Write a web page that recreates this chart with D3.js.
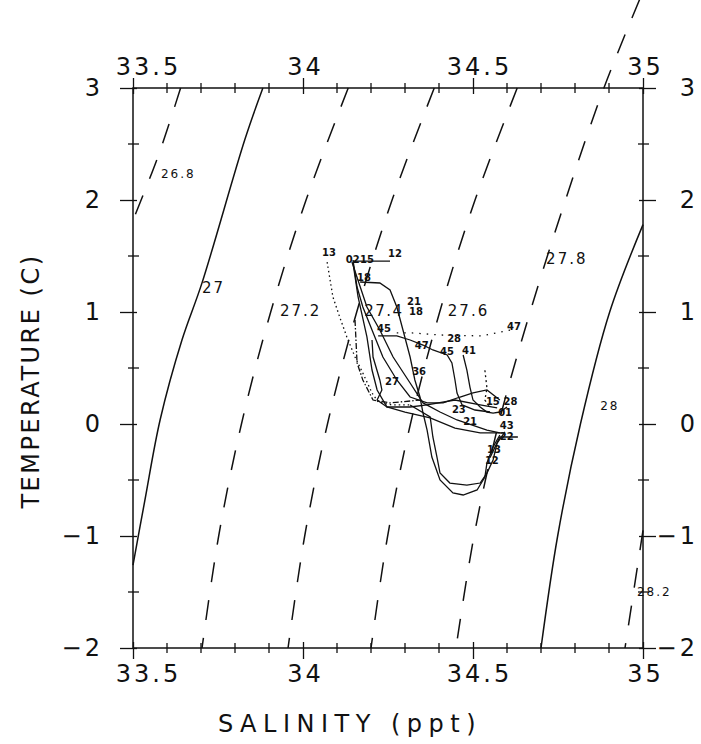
<!DOCTYPE html>
<html>
<head>
<meta charset="utf-8">
<script src="https://cdn.jsdelivr.net/npm/d3@7"></script>
<style>
	body { margin: 0; background: #fff; }
	svg text { font-family: "DejaVu Sans", sans-serif; fill: #111; }
</style>
</head>
<body>
<div id="chart"></div>
<script>
// AXIS TICKS
var salinityTicks = [33.5, 34, 34.5, 35];
var tempTicks = [3, 2, 1, 0, -1, -2];

// ISOPYCNALS (sigma-theta), points as [salinity, temperature]
var iso268 = [[33.64, 3], [33.575, 2.4], [33.5, 1.82]];
var iso270 = [[33.882, 3], [33.829, 2.54], [33.703, 1.26], [33.644, 0.75], [33.58, 0.04], [33.535, -0.68], [33.5, -1.26]];
var iso272 = [[34.133, 3], [34.009, 2], [33.905, 1], [33.819, 0], [33.752, -1], [33.703, -2]];
var iso274 = [[34.386, 3], [34.262, 2], [34.158, 1], [34.072, 0], [34.005, -1], [33.956, -2]];
var iso276 = [[34.63, 3], [34.506, 2], [34.402, 1], [34.316, 0], [34.249, -1], [34.2, -2]];
var iso278 = [[34.99, 3.79], [34.885, 3], [34.772, 2], [34.668, 1], [34.575, 0], [34.503, -1], [34.45, -2]];
var iso280 = [[35.0, 1.78], [34.902, 1], [34.816, 0], [34.749, -1], [34.7, -2]];
var iso282 = [[35.0, -0.95], [34.947, -2]];

// isopycnal labels: [value text, salinity, temperature]
var isoLabels = [
	["26.8", 33.582, 2.2],
	["27", 33.703, 1.17],
	["27.2", 33.932, 0.96],
	["27.4", 34.18, 0.96],
	["27.6", 34.426, 0.96],
	["27.8", 34.715, 1.43],
	["28", 34.874, 0.125],
	["28.2", 34.982, -1.54],
];

// STATION PROFILES [salinity, temperature]
var st13 = [[34.071, 1.446], [34.088, 1.134], [34.109, 0.946], [34.129, 0.777], [34.153, 0.598], [34.176, 0.455], [34.203, 0.277], [34.221, 0.196], [34.262, 0.17], [34.315, 0.17]];
var st02 = [[34.144, 1.446], [34.188, 1.045], [34.226, 0.839], [34.265, 0.598], [34.315, 0.366], [34.353, 0.188], [34.403, 0.107], [34.453, 0.036], [34.541, -0.054], [34.579, -0.08]];
var st15 = [[34.147, 1.438], [34.162, 1.134], [34.188, 0.777], [34.203, 0.482], [34.218, 0.304], [34.247, 0.152], [34.315, 0.152], [34.365, 0.17], [34.447, 0.214], [34.521, 0.17], [34.571, 0.143]];
var st18 = [[34.168, 1.268], [34.226, 1.259], [34.256, 1.196], [34.276, 1.045], [34.294, 0.839], [34.315, 0.598], [34.329, 0.393], [34.344, 0.241], [34.353, 0.098], [34.365, -0.054], [34.379, -0.295], [34.403, -0.5], [34.441, -0.616], [34.471, -0.634], [34.512, -0.589], [34.535, -0.473], [34.541, -0.348], [34.559, -0.205], [34.579, -0.098]];
var st23 = [[34.315, 0.17], [34.374, 0.063], [34.382, -0.116], [34.394, -0.295], [34.403, -0.438], [34.432, -0.527], [34.482, -0.545], [34.521, -0.527], [34.541, -0.438], [34.559, -0.321], [34.571, -0.17], [34.594, -0.071]];
var st41 = [[34.471, 0.616], [34.482, 0.482], [34.491, 0.33], [34.5, 0.214], [34.521, 0.152], [34.541, 0.107], [34.559, 0.098], [34.579, 0.107], [34.6, 0.152]];
var st45 = [[34.221, 0.786], [34.276, 0.786], [34.315, 0.75], [34.353, 0.705], [34.382, 0.661], [34.424, 0.616], [34.438, 0.545], [34.447, 0.393], [34.453, 0.277], [34.468, 0.17], [34.506, 0.125], [34.55, 0.107]];
var st27 = [[34.203, 0.75], [34.206, 0.598], [34.226, 0.393], [34.232, 0.304], [34.218, 0.214], [34.247, 0.152], [34.3, 0.107], [34.374, 0.054], [34.447, -0.036], [34.521, -0.08], [34.588, -0.08]];
var st21 = [[34.147, 1.464], [34.159, 1.223], [34.176, 1.045], [34.203, 0.839], [34.235, 0.598], [34.276, 0.393], [34.315, 0.241], [34.365, 0.188], [34.412, 0.188], [34.462, 0.241], [34.5, 0.277], [34.541, 0.304], [34.579, 0.214]];
var st47 = [[34.609, 0.839], [34.526, 0.786], [34.403, 0.795], [34.321, 0.813], [34.271, 0.813]];
var st28 = [[34.535, 0.48], [34.541, 0.321], [34.535, 0.214], [34.55, 0.15]];
var st36 = [[34.153, 0.929], [34.159, 0.545], [34.176, 0.393], [34.206, 0.214], [34.256, 0.188], [34.344, 0.214]];
var st12 = [[34.147, 1.455], [34.256, 1.455]];
var st22 = [[34.55, -0.3], [34.579, -0.116], [34.632, -0.116]];

// station number labels: [text, salinity, temperature]
var stationLabels = [
	["13", 34.056, 1.5], ["02", 34.126, 1.438], ["15", 34.168, 1.438], ["12", 34.25, 1.491],
	["18", 34.159, 1.277], ["21", 34.306, 1.06], ["18", 34.312, 0.97], ["45", 34.218, 0.821],
	["47", 34.329, 0.67], ["28", 34.424, 0.732], ["45", 34.403, 0.616], ["41", 34.468, 0.625],
	["47", 34.6, 0.839], ["36", 34.321, 0.438], ["27", 34.241, 0.348], ["15", 34.538, 0.17],
	["28", 34.59, 0.17], ["01", 34.574, 0.07], ["23", 34.438, 0.098], ["21", 34.471, -0.009],
	["43", 34.579, -0.045], ["22", 34.579, -0.14], ["13", 34.541, -0.259], ["12", 34.535, -0.355],
];

// SET DIMENSIONS
var width = 701, height = 744;
var margin = { top: 88, right: 58, bottom: 96, left: 133 };

var svg = d3
	.select("#chart")
	.append("svg")
	.attr("width", width)
	.attr("height", height);

var x = d3.scaleLinear().domain([33.5, 35]).range([margin.left, width - margin.right]);
var y = d3.scaleLinear().domain([-2, 3]).range([height - margin.bottom, margin.top]);

var fmt = function (d) {
	return d3.format("")(d);
};

// FRAME
svg
	.append("rect")
	.attr("x", x(33.5))
	.attr("y", y(3))
	.attr("width", x(35) - x(33.5))
	.attr("height", y(-2) - y(3))
	.attr("fill", "none")
	.attr("stroke", "#111")
	.attr("stroke-width", 1.5);

// MINOR TICKS (crossing the frame)
var minorX = x.ticks(15).filter(function (d) { return salinityTicks.indexOf(+d.toFixed(1)) < 0; });
var minorY = y.ticks(10).filter(function (d) { return tempTicks.indexOf(d) < 0; });
var ticks = svg.append("g").attr("stroke", "#111").attr("stroke-width", 1.3);
[y(-2), y(3)].forEach(function (yy) {
	ticks.selectAll(null).data(minorX).join("line")
		.attr("x1", function (d) { return x(d); }).attr("x2", function (d) { return x(d); })
		.attr("y1", yy - 5).attr("y2", yy + 5);
});
[x(33.5), x(35)].forEach(function (xx) {
	ticks.selectAll(null).data(minorY).join("line")
		.attr("y1", function (d) { return y(d); }).attr("y2", function (d) { return y(d); })
		.attr("x1", xx - 5).attr("x2", xx + 6);
});

// MAJOR AXES
function styleAxis(g) {
	g.select(".domain").remove();
	g.selectAll(".tick line").attr("stroke", "#111").attr("stroke-width", 1.3);
	g.selectAll(".tick text")
		.attr("fill", "#111")
		.style("font-size", "24px")
		.style("letter-spacing", "3px");
}

var bottomAxis = svg.append("g")
	.attr("transform", "translate(0," + y(-2) + ")")
	.call(d3.axisBottom(x).tickValues(salinityTicks).tickSize(11).tickPadding(6).tickFormat(fmt));
styleAxis(bottomAxis);
bottomAxis.selectAll(".tick line").attr("y1", -6);

var topAxis = svg.append("g")
	.attr("transform", "translate(0," + y(3) + ")")
	.call(d3.axisTop(x).tickValues(salinityTicks).tickSize(10).tickPadding(3).tickFormat(fmt));
styleAxis(topAxis);
topAxis.selectAll(".tick line").attr("y1", 6);

[bottomAxis, topAxis].forEach(function (g) {
	g.selectAll(".tick text").attr("dx", function (d) {
		return d === 33.5 ? 15 : d % 1 ? 6 : 2;
	});
});

var leftAxis = svg.append("g")
	.attr("transform", "translate(" + x(33.5) + ",0)")
	.call(d3.axisLeft(y).tickValues(tempTicks).tickSize(13).tickPadding(17).tickFormat(fmt));
styleAxis(leftAxis);
leftAxis.selectAll(".tick line").attr("x1", 4);

var rightAxis = svg.append("g")
	.attr("transform", "translate(" + x(35) + ",0)")
	.call(d3.axisRight(y).tickValues(tempTicks).tickSize(13).tickPadding(18).tickFormat(fmt));
styleAxis(rightAxis);
rightAxis.selectAll(".tick line").attr("x1", -4);
rightAxis.selectAll(".tick text").attr("text-anchor", "end").attr("x", 55);

// AXIS TITLES
svg.append("text")
	.attr("x", 350)
	.attr("y", 732)
	.attr("text-anchor", "middle")
	.style("font-size", "24px")
	.style("letter-spacing", "6.5px")
	.text("SALINITY (ppt)");

svg.append("text")
	.attr("transform", "translate(39,381) rotate(-90)")
	.attr("text-anchor", "middle")
	.style("font-size", "24px")
	.style("letter-spacing", "2.5px")
	.text("TEMPERATURE (C)");

// ISOPYCNAL LINES
var line = d3.line()
	.x(function (d) { return x(d[0]); })
	.y(function (d) { return y(d[1]); })
	.curve(d3.curveCatmullRom);

var isoLines = [
	{ pts: iso268, dash: true },
	{ pts: iso270, dash: false },
	{ pts: iso272, dash: true },
	{ pts: iso274, dash: true },
	{ pts: iso276, dash: true },
	{ pts: iso278, dash: true },
	{ pts: iso280, dash: false },
	{ pts: iso282, dash: true },
];
svg.append("g")
	.selectAll("path")
	.data(isoLines)
	.join("path")
	.attr("d", function (d) { return line(d.pts); })
	.attr("fill", "none")
	.attr("stroke", "#111")
	.attr("stroke-width", 1.5)
	.attr("stroke-dasharray", function (d) { return d.dash ? "20,18" : null; });

svg.append("g")
	.selectAll("text")
	.data(isoLabels)
	.join("text")
	.attr("x", function (d) { return x(d[1]); })
	.attr("y", function (d) { return y(d[2]); })
	.style("font-size", function (d) { return d[0] === "26.8" || d[0] === "28" || d[0] === "28.2" ? "12px" : "15px"; })
	.style("letter-spacing", function (d) { return d[0] === "27.4" ? "1.5px" : "2px"; })
	.text(function (d) { return d[0]; });

// STATION PROFILES
var profiles = [
	{ pts: st13, dash: "1.5,3" },
	{ pts: st02, dash: null },
	{ pts: st15, dash: null },
	{ pts: st18, dash: null },
	{ pts: st23, dash: null },
	{ pts: st41, dash: null },
	{ pts: st45, dash: null },
	{ pts: st27, dash: null },
	{ pts: st21, dash: null },
	{ pts: st47, dash: "1.5,6" },
	{ pts: st28, dash: "2,3" },
	{ pts: st36, dash: "6,2,1.5,2" },
	{ pts: st12, dash: null },
	{ pts: st22, dash: null },
];
var profileLine = d3.line()
	.x(function (d) { return x(d[0]); })
	.y(function (d) { return y(d[1]); });

svg.append("g")
	.selectAll("path")
	.data(profiles)
	.join("path")
	.attr("d", function (d) { return profileLine(d.pts); })
	.attr("fill", "none")
	.attr("stroke", "#111")
	.attr("stroke-width", 1.3)
	.attr("stroke-dasharray", function (d) { return d.dash; });

svg.append("g")
	.selectAll("text")
	.data(stationLabels)
	.join("text")
	.attr("x", function (d) { return x(d[1]); })
	.attr("y", function (d) { return y(d[2]); })
	.style("font-size", "10px")
	.style("font-weight", "bold")
	.text(function (d) { return d[0]; });
</script>
</body>
</html>
